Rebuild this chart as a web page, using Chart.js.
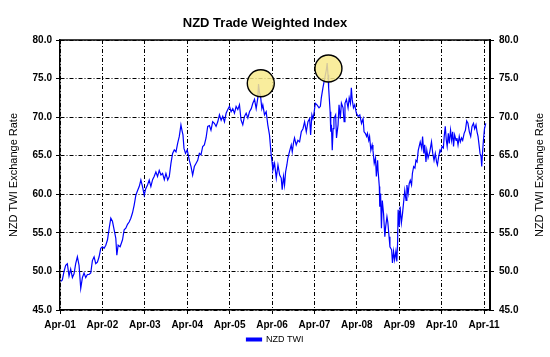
<!DOCTYPE html>
<html><head><meta charset="utf-8">
<script src="https://cdn.jsdelivr.net/npm/chart.js@4/dist/chart.umd.min.js"></script>
<style>html,body{margin:0;padding:0;background:#fff;}canvas{display:block;}</style>
</head><body>
<canvas id="c" width="550" height="357"></canvas>
<script>
const chartTitle = 'NZD Trade Weighted Index';
const axisTitle = 'NZD TWI Exchange Rate';
const seriesName = 'NZD TWI';
const tickLabels = ['Apr-01','Apr-02','Apr-03','Apr-04','Apr-05','Apr-06','Apr-07','Apr-08','Apr-09','Apr-10','Apr-11'];
const yTicks = [45, 50, 55, 60, 65, 70, 75, 80];

// time in years since Apr-01
const yearsSinceApr01 = [
0.02,0.055,0.095,0.134,0.173,0.213,0.252,0.292,0.331,0.37,0.41,0.449,0.489,0.528,0.567,0.607,0.646,0.685,0.725,0.764,0.804,0.843,0.882,0.922,0.961,1.0,1.04,1.08,1.12,1.16,1.198,1.237,1.277,1.316,1.34,1.371,1.418,1.474,1.513,1.552,1.592,1.631,
1.67,1.71,1.749,1.789,1.83,1.868,1.907,1.946,1.986,2.02,2.064,2.104,2.143,2.183,2.22,2.261,2.30,2.34,2.38,2.419,2.46,2.498,2.54,2.577,2.616,2.655,2.695,2.735,2.774,2.813,2.852,2.876,2.9,2.924,2.96,3.0,3.05,3.09,3.128,3.168,3.207,3.247,3.286,3.325,3.365,3.404,3.444,3.483,3.523,
3.56,3.6,3.64,3.68,3.72,3.76,3.80,3.838,3.878,3.917,3.957,3.996,4.035,4.074,4.114,4.153,4.193,4.232,4.27,4.31,4.35,4.39,4.43,4.468,4.51,4.547,4.587,4.626,4.665,4.681,4.704,4.73,4.76,4.783,4.823,4.862,4.90,4.94,4.98,5.0,5.02,5.06,5.1,5.14,5.18,
5.217,5.24,5.27,5.295,5.32,5.35,5.374,5.41,5.453,5.477,5.51,5.53,5.57,5.61,5.65,5.69,5.73,5.768,5.808,5.847,5.887,5.91,5.94,5.965,5.99,6.02,6.06,6.108,6.14,6.162,6.2,6.241,6.28,6.30,6.32,6.335,6.35,6.37,6.385,6.40,6.42,6.44,6.46,6.50,6.52,6.557,6.58,6.61,6.636,6.675,6.70,6.72,6.754,6.793,6.82,6.85,6.87,6.89,6.92,6.95,6.99,7.03,
7.07,7.11,7.147,7.17,7.2,7.23,7.25,7.28,7.30,7.33,7.36,7.38,7.41,7.44,7.46,7.49,7.50,7.53,7.54,7.56,7.58,7.60,7.63,7.66,7.68,7.71,7.73,7.76,7.78,7.82,7.84,7.866,7.89,7.92,7.943,7.96,7.974,8.0,8.02,8.05,8.077,8.10,8.13,8.16,8.18,8.21,8.235,8.26,8.29,8.31,8.34,8.37,8.393,8.42,8.448,8.47,8.495,8.53,8.55,8.58,8.60,8.63,8.65,8.68,8.72,8.76,
8.79,8.82,8.85,8.88,8.90,8.93,8.96,8.98,9.007,9.04,9.06,9.085,9.11,9.13,9.157,9.18,9.21,9.235,9.26,9.28,9.306,9.34,9.36,9.386,9.415,9.44,9.47,9.496,9.53,9.56,9.59,9.62,9.653,9.685,9.716,9.75,9.779,9.81,9.834,9.858,9.882,9.905,9.929,9.945,9.96,9.985,10.01,10.04
];
const twiValues = [
48.7,48.9,50.0,50.8,51.0,49.4,50.3,49.2,49.7,51.0,51.9,50.8,47.8,49.2,49.8,49.2,49.6,49.6,49.8,51.4,51.9,51.0,51.2,51.9,53.0,53.2,53.0,53.4,54.1,55.6,56.9,56.5,55.4,54.3,52.1,53.4,53.2,54.1,55.4,55.6,56.1,56.4,
56.9,57.6,58.6,59.9,60.5,61.0,61.85,61.0,59.9,60.7,61.2,61.85,61.0,61.9,62.3,62.9,62.3,63.1,62.5,62.7,61.9,62.7,61.85,62.3,64.0,65.3,65.75,65.5,66.6,67.5,69.0,68.3,67.7,65.95,65.3,65.75,64.4,63.6,62.5,63.6,64.0,64.4,65.3,65.1,66.2,66.4,67.3,68.8,68.9,
68.3,69.4,69.2,68.8,69.4,70.3,69.6,70.1,69.4,70.5,71.0,71.4,70.7,71.1,70.5,71.4,71.0,71.6,69.6,69.0,70.1,70.5,69.9,70.7,71.1,71.8,72.3,71.1,72.5,74.3,73.2,72.7,71.1,71.6,70.3,70.7,69.0,67.7,65.1,64.2,63.1,64.0,62.1,63.8,62.5,
62.1,60.6,62.3,61.2,62.9,63.8,64.7,65.5,66.4,65.5,66.8,67.3,66.4,67.0,66.8,68.1,68.5,69.4,68.1,69.4,69.8,67.7,70.3,69.8,70.5,71.8,71.6,71.2,71.4,72.5,73.8,75.0,76.1,77.0,75.5,73.8,72.5,70.7,68.1,69.0,65.7,68.5,69.8,70.3,67.3,69.0,71.6,69.8,71.8,71.2,69.4,71.8,72.3,71.2,72.5,71.8,73.8,72.3,71.2,71.6,70.5,70.1,
70.3,69.2,69.8,68.1,67.9,67.5,67.9,67.0,67.5,65.7,66.4,65.7,64.0,64.7,62.3,64.4,63.1,61.0,58.4,60.1,55.6,59.2,57.5,54.5,55.8,57.1,56.4,54.5,53.2,52.8,51.1,52.6,51.5,52.6,51.3,53.6,58.0,55.8,58.4,56.3,57.5,58.8,60.5,59.2,61.2,60.1,61.4,61.8,61.2,62.7,63.6,63.4,64.4,64.2,65.7,66.2,66.8,65.95,67.5,65.3,66.4,64.2,65.7,64.7,65.5,66.8,
65.3,64.4,65.3,64.2,63.8,64.9,65.7,65.5,66.2,66.0,67.5,68.8,67.0,66.2,67.9,66.6,68.3,67.0,68.1,66.2,67.7,67.0,67.3,66.4,67.5,66.8,67.3,67.0,67.9,68.3,69.5,69.2,68.1,67.5,68.8,69.2,68.5,69.0,68.1,67.5,66.4,65.3,64.9,63.6,65.1,67.0,68.5,69.2
];
// highlighted peaks (circled)
const highlightYears = [4.735, 6.33];
const highlightValues = [74.4, 76.3];

const FONT = '"Liberation Sans", Arial, sans-serif';
const DASH = [4, 2, 1, 2];

const decor = {
  id: 'decor',
  beforeDatasetsDraw(chart) {
    const {ctx, chartArea: a} = chart;
    ctx.save();
    ctx.strokeStyle = '#000'; ctx.lineWidth = 1.5;
    ctx.beginPath(); ctx.moveTo(a.left, a.top); ctx.lineTo(a.right, a.top); ctx.stroke();
    ctx.restore();
  },
  afterDraw(chart) {
    const {ctx, chartArea: a} = chart;
    ctx.save();
    ctx.fillStyle = '#000';
    ctx.textAlign = 'center'; ctx.textBaseline = 'middle';
    ctx.font = 'bold 13px ' + FONT;
    ctx.fillText(chartTitle, 265, 23.5);
    ctx.font = '11px ' + FONT;
    [13.5, 540].forEach(x => {
      ctx.save();
      ctx.translate(x, (a.top + a.bottom) / 2);
      ctx.rotate(-Math.PI / 2);
      ctx.fillText(axisTitle, 0, 0);
      ctx.restore();
    });
    ctx.restore();
  }
};

new Chart(document.getElementById('c'), {
  type: 'line',
  data: {
    datasets: [
      {
        label: seriesName,
        data: yearsSinceApr01.map((x, i) => ({x, y: twiValues[i]})),
        borderColor: '#0000ff',
        backgroundColor: '#0000ff',
        borderWidth: 1.2,
        pointRadius: 0,
        tension: 0,
        order: 2
      },
      {
        label: 'highlight',
        data: highlightYears.map((x, i) => ({x, y: highlightValues[i]})),
        showLine: false,
        pointRadius: 13.5,
        pointHoverRadius: 13.5,
        pointBackgroundColor: 'rgba(248,234,140,0.85)',
        pointBorderColor: '#000',
        pointBorderWidth: 1.4,
        order: 1
      }
    ]
  },
  options: {
    responsive: false,
    animation: false,
    devicePixelRatio: 1,
    layout: {padding: {top: 40, left: 0, right: 0, bottom: 3}},
    plugins: {
      title: {display: false},
      tooltip: {enabled: false},
      legend: {
        position: 'bottom',
        labels: {
          filter: (item) => item.datasetIndex === 0,
          boxWidth: 15, boxHeight: 3, padding: 2,
          color: '#000',
          font: {family: FONT, size: 9}
        }
      }
    },
    scales: {
      x: {
        type: 'linear', min: 0, max: 10.14,
        afterBuildTicks: (s) => { s.ticks = tickLabels.map((_, i) => ({value: i})); },
        afterFit: (s) => { s.height = 23; },
        ticks: {
          autoSkip: false, maxRotation: 0, padding: 5,
          color: '#000', font: {family: FONT, size: 10, weight: 'bold'},
          callback: (v, i) => tickLabels[i]
        },
        grid: {color: '#000', lineWidth: 1, tickLength: 4, tickColor: '#000', tickBorderDash: []},
        border: {display: true, color: '#000', width: 1.5, dash: DASH}
      },
      y: {
        position: 'left', min: 45, max: 80,
        afterBuildTicks: (s) => { s.ticks = yTicks.map(v => ({value: v})); },
        afterFit: (s) => { s.width = 60; },
        ticks: {
          padding: 4, color: '#000', font: {family: FONT, size: 10, weight: 'bold'},
          callback: (v) => Number(v).toFixed(1)
        },
        grid: {color: '#000', lineWidth: 1, tickLength: 4, tickColor: '#000', tickBorderDash: []},
        border: {display: true, color: '#000', width: 1.5, dash: DASH}
      },
      y2: {
        position: 'right', min: 45, max: 80,
        afterBuildTicks: (s) => { s.ticks = yTicks.map(v => ({value: v})); },
        afterFit: (s) => { s.width = 60; },
        ticks: {
          padding: 5, color: '#000', font: {family: FONT, size: 10, weight: 'bold'},
          callback: (v) => Number(v).toFixed(1)
        },
        grid: {drawOnChartArea: false, color: '#000', tickLength: 4, tickColor: '#000'},
        border: {display: true, color: '#000', width: 2}
      }
    }
  },
  plugins: [decor]
});
</script>
</body></html>
